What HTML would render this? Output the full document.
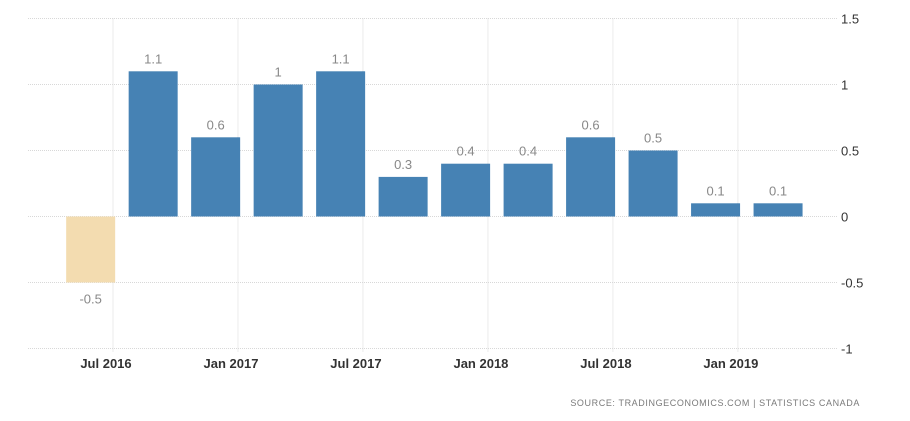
<!DOCTYPE html>
<html><head><meta charset="utf-8"><style>
body{margin:0;background:#fff;}
svg{display:block;font-family:"Liberation Sans",sans-serif;}
</style></head><body>
<svg id="chart" width="910" height="421">
<g id="grid"></g>
<g id="bars"></g>
<g id="labels"></g>
<g id="yaxis"></g>
<g id="xaxis"></g>
<text x="860" y="406" text-anchor="end" font-size="9" fill="#7a7a7a" letter-spacing="0.6">SOURCE:  TRADINGECONOMICS.COM  |  STATISTICS  CANADA</text>
</svg>
<script>
const categories=["Jun 2016","Sep 2016","Dec 2016","Mar 2017","Jun 2017","Sep 2017","Dec 2017","Mar 2018","Jun 2018","Sep 2018","Dec 2018","Mar 2019"];
const monthIdx=[5,8,11,14,17,20,23,26,29,32,35,38];
const values=[-0.5,1.1,0.6,1,1.1,0.3,0.4,0.4,0.6,0.5,0.1,0.1];
const valueLabels=["-0.5","1.1","0.6","1","1.1","0.3","0.4","0.4","0.6","0.5","0.1","0.1"];
const yTicks=[1.5,1,0.5,0,-0.5,-1];
const yTickLabels=["1.5","1","0.5","0","-0.5","-1"];
const xTickMonths=[6,12,18,24,30,36];
const xTickLabels=["Jul 2016","Jan 2017","Jul 2017","Jan 2018","Jul 2018","Jan 2019"];
const NS="http://www.w3.org/2000/svg";
const X=m=>113+(m-6)*20.83;
const Y=v=>216.5-v*132;
function mk(tag,attrs,parent,text){const e=document.createElementNS(NS,tag);for(const k in attrs)e.setAttribute(k,attrs[k]);if(text!==undefined)e.textContent=text;parent.appendChild(e);return e;}
const g=document.getElementById('grid'),b=document.getElementById('bars'),l=document.getElementById('labels'),ya=document.getElementById('yaxis'),xa=document.getElementById('xaxis');
yTicks.forEach((t,i)=>{
  const ln=mk('line',{x1:28,x2:838,y1:Y(t),y2:Y(t),stroke:'#d8d8d8','stroke-dasharray':'1,1'},g);
  
  
  const tx=mk('text',{x:841,y:Y(t)+5,'font-size':13,fill:'#333'},ya,yTickLabels[i]);
  
  
});
xTickMonths.forEach((m,i)=>{
  const ln=mk('line',{x1:X(m),x2:X(m),y1:Y(1.5),y2:Y(-1)+4,stroke:'#d8d8d8','stroke-dasharray':'1,1'},g);
  
  
  const tx=mk('text',{x:X(m)-7,y:368,'font-size':13,fill:'#333','text-anchor':'middle','font-weight':'bold'},xa,xTickLabels[i]);
  
  
});
values.forEach((v,i)=>{
  const cx=X(monthIdx[i])-1.5,w=49;
  const top=Math.min(Y(v),Y(0)),h=Math.abs(Y(v)-Y(0));
  const r=mk('rect',{x:cx-w/2,y:top,width:w,height:h,fill:v<0?'#f3dcb0':'#4682b4'},b);
  
  
  const ly=v<0?Y(v)+21:Y(v)-8;
  const t=mk('text',{x:cx,y:ly,'font-size':13,fill:'#888','text-anchor':'middle'},l,valueLabels[i]);
  
  
});
</script>
</body></html>
